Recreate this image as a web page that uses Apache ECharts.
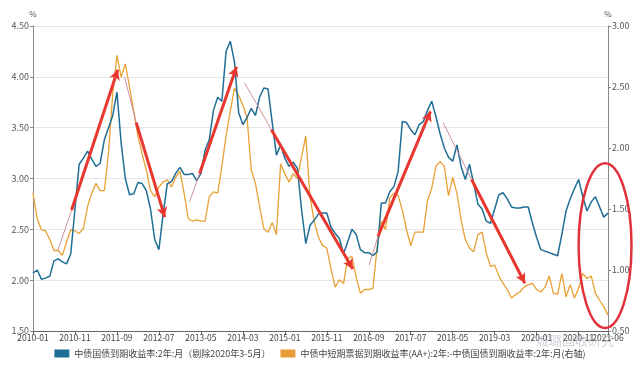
<!DOCTYPE html>
<html>
<head>
<meta charset="utf-8">
<script src="https://cdn.jsdelivr.net/npm/echarts@6/dist/echarts.min.js"></script>
<style>
html,body{margin:0;padding:0;background:#fff;}
#c{width:640px;height:369px;}
</style>
</head>
<body>
<div id="c"></div>
<script>
// ---- categories: monthly 2010-01 .. 2021-06 ----
const startYear = 2010;
const monthCount = 138;
const categories = [];
for (let k = 0; k < monthCount; k++) {
  const y = startYear + Math.floor(k / 12);
  const m = (k % 12) + 1;
  categories.push(y + '-' + (m < 10 ? '0' + m : '' + m));
}

// ---- series values ----
const seriesNames = [
  '中债国债到期收益率:2年:月（剔除2020年3-5月）',
  '中债中短期票据到期收益率(AA+):2年:-中债国债到期收益率:2年:月(右轴)'
];

// 2y CGB yield (left axis), 2020-03..05 removed
const cgb2y = [
  2.07, 2.10, 2.01, 2.02, 2.04, 2.19, 2.21, 2.18, 2.16, 2.26,
  2.70, 3.14, 3.20, 3.27, 3.19, 3.12, 3.15, 3.38, 3.50, 3.62,
  3.85, 3.35, 3.00, 2.84, 2.85, 2.96, 2.95, 2.88, 2.70, 2.40,
  2.30, 2.65, 2.95, 2.97, 3.05, 3.11, 3.04, 3.04, 3.05, 2.98,
  3.05, 3.28, 3.38, 3.67, 3.80, 3.76, 4.25, 4.35, 4.15, 3.65,
  3.53, 3.60, 3.69, 3.62, 3.80, 3.89, 3.88, 3.55, 3.23, 3.33,
  3.20, 3.12, 3.16, 3.10, 2.69, 2.36, 2.54, 2.59, 2.65, 2.66,
  2.66, 2.52, 2.46, 2.41, 2.26, 2.38, 2.50, 2.45, 2.30, 2.27,
  2.27, 2.24, 2.28, 2.76, 2.76, 2.87, 2.92, 3.07, 3.56, 3.55,
  3.48, 3.43, 3.53, 3.56, 3.67, 3.76, 3.61, 3.44, 3.30, 3.21,
  3.17, 3.33, 3.12, 2.99, 3.14, 2.95, 2.75, 2.70, 2.58, 2.56,
  2.70, 2.84, 2.86, 2.80, 2.72, 2.71, 2.71, 2.72, 2.72, 2.56,
  2.42, 2.30, null, null, null, 2.24, 2.45, 2.68, 2.80, 2.90,
  2.99, 2.82, 2.68, 2.77, 2.82, 2.72, 2.62, 2.66
];

// AA+ 2y MTN minus 2y CGB spread (right axis)
const spreadAA = [
  1.63, 1.42, 1.33, 1.32, 1.25, 1.16, 1.16, 1.12, 1.23, 1.33,
  1.32, 1.30, 1.34, 1.52, 1.63, 1.71, 1.65, 1.65, 1.96, 2.45,
  2.76, 2.58, 2.69, 2.50, 2.30, 2.10, 1.95, 1.82, 1.65, 1.60,
  1.68, 1.72, 1.74, 1.68, 1.76, 1.81, 1.63, 1.42, 1.40, 1.41,
  1.40, 1.40, 1.60, 1.64, 1.63, 1.85, 2.10, 2.30, 2.49, 2.43,
  2.35, 2.25, 1.82, 1.71, 1.52, 1.34, 1.31, 1.39, 1.29, 1.87,
  1.79, 1.72, 1.79, 1.75, 1.93, 2.10, 1.60, 1.40, 1.27, 1.20,
  1.18, 1.01, 0.86, 0.92, 0.89, 1.10, 1.11, 0.94, 0.81, 0.84,
  0.84, 0.85, 1.19, 1.40, 1.33, 1.59, 1.63, 1.61, 1.49, 1.33,
  1.20, 1.31, 1.31, 1.31, 1.57, 1.67, 1.85, 1.89, 1.85, 1.61,
  1.76, 1.63, 1.41, 1.25, 1.18, 1.15, 1.29, 1.31, 1.14, 1.03,
  1.04, 0.95, 0.89, 0.84, 0.77, 0.80, 0.82, 0.86, 0.88, 0.89,
  0.84, 0.82, 0.86, 0.95, 0.81, 0.80, 0.97, 0.78, 0.88, 0.77,
  0.85, 0.97, 0.93, 0.95, 0.81, 0.75, 0.70, 0.63
];

// ---- tick labels ----
const leftTicks = [1.5, 4.5, 0.5];   // min, max, step
const rightTicks = [0.5, 3.0, 0.5];
const unitLabel = '%';

// ---- annotations (month index, left-axis value) ----
const trendArrows = [
  [[9.2, 2.69], [20.2, 4.07]],
  [[24.6, 3.55], [31.4, 2.62]],
  [[39.7, 3.05], [48.5, 4.10]],
  [[56.8, 3.48], [76.2, 2.11]],
  [[82.2, 2.43], [94.7, 3.66]],
  [[104.5, 2.99], [117.2, 1.97]]
];
const guideLines = [
  [[5.9, 2.29], [9.2, 2.69]],
  [[21.8, 4.00], [24.6, 3.55]],
  [[37.3, 2.77], [39.7, 3.05]],
  [[50.4, 3.94], [56.8, 3.48]],
  [[80.1, 2.15], [82.2, 2.43]],
  [[97.7, 3.55], [104.5, 2.99]]
];
// ellipse bounds: [left idx, right idx, top value, bottom value]
const ellipseBox = [130.0, 142.6, 3.15, 1.53];

const watermarkText = '城璐固收研究';

const chart = echarts.init(document.getElementById('c'), null, {renderer: 'canvas'});

const lastIdx = categories.length - 1;
const labelIdx = function (i) { return i % 10 === 0; };
const lastOnly = function (i) { return i === lastIdx; };
const fmt2 = function (v) { return v.toFixed(2); };
const fontFam = '"Noto Sans CJK SC", "Noto Sans", sans-serif';

const arrowMarks = trendArrows.map(function (a) {
  return [{coord: a[0]}, {coord: a[1]}];
});
const guideMarks = guideLines.map(function (a) {
  return [{coord: a[0]}, {coord: a[1]}];
});

const option = {
  animation: false,
  textStyle: {fontFamily: fontFam},
  grid: {left: 33, right: 32, top: 26, bottom: 38, containLabel: false},
  legend: {
    data: seriesNames,
    bottom: 6,
    left: 'center',
    icon: 'rect',
    itemWidth: 15,
    itemHeight: 8,
    itemGap: 10,
    textStyle: {fontSize: 9, color: '#444', fontFamily: fontFam}
  },
  xAxis: [
    {
      type: 'category',
      data: categories,
      boundaryGap: false,
      axisLine: {lineStyle: {color: '#666', width: 1}},
      axisTick: {show: true, interval: labelIdx, length: 4, lineStyle: {color: '#666'}},
      axisLabel: {interval: labelIdx, fontSize: 8.5, color: '#444', margin: 3, hideOverlap: false},
      splitLine: {show: false}
    },
    {type: 'value', min: 0, max: lastIdx, show: false},
    {
      type: 'category',
      data: categories,
      position: 'bottom',
      boundaryGap: false,
      axisLine: {show: false},
      axisTick: {show: true, interval: lastOnly, length: 4, lineStyle: {color: '#666'}},
      axisLabel: {interval: lastOnly, fontSize: 8.5, color: '#444', margin: 3, showMaxLabel: true},
      splitLine: {show: false}
    }
  ],
  yAxis: [
    {
      type: 'value',
      min: leftTicks[0], max: leftTicks[1], interval: leftTicks[2],
      name: unitLabel,
      nameGap: 8,
      nameTextStyle: {fontSize: 8, color: '#555', align: 'center'},
      axisLine: {show: true, lineStyle: {color: '#888'}},
      axisTick: {show: true, length: 3, lineStyle: {color: '#888'}},
      axisLabel: {formatter: fmt2, fontSize: 9, color: '#555', margin: 4},
      splitLine: {show: true, lineStyle: {color: '#e6e6e6'}}
    },
    {
      type: 'value',
      position: 'right',
      min: rightTicks[0], max: rightTicks[1], interval: rightTicks[2],
      name: unitLabel,
      nameGap: 8,
      nameTextStyle: {fontSize: 8, color: '#555', align: 'center'},
      axisLine: {show: true, lineStyle: {color: '#888'}},
      axisTick: {show: true, length: 3, lineStyle: {color: '#888'}},
      axisLabel: {formatter: fmt2, fontSize: 9, color: '#555', margin: 4},
      splitLine: {show: false}
    }
  ],
  series: [
    {
      name: seriesNames[0],
      type: 'line',
      xAxisIndex: 0, yAxisIndex: 0,
      data: cgb2y,
      connectNulls: true,
      showSymbol: false,
      color: '#1f6e95',
      lineStyle: {width: 1.5, color: '#1f6e95'},
      z: 3
    },
    {
      name: seriesNames[1],
      type: 'line',
      xAxisIndex: 0, yAxisIndex: 1,
      data: spreadAA,
      showSymbol: false,
      color: '#eb9b35',
      lineStyle: {width: 1.3, color: '#e9a035'},
      z: 2
    },
    {
      name: 'guides',
      type: 'line',
      xAxisIndex: 1, yAxisIndex: 0,
      data: [],
      silent: true,
      markLine: {
        silent: true,
        symbol: ['none', 'none'],
        label: {show: false},
        lineStyle: {type: 'solid', color: '#c9849a', width: 1, opacity: 0.9},
        emphasis: {disabled: true},
        data: guideMarks
      },
      z: 4
    },
    {
      name: 'arrows',
      type: 'line',
      xAxisIndex: 1, yAxisIndex: 0,
      data: [],
      silent: true,
      markLine: {
        silent: true,
        symbol: ['none', 'arrow'],
        symbolSize: [8, 10],
        label: {show: false},
        lineStyle: {type: 'solid', color: '#e8372f', width: 3},
        emphasis: {disabled: true},
        data: arrowMarks
      },
      z: 5
    }
  ]
};
chart.setOption(option);

const pTL = chart.convertToPixel({xAxisIndex: 1, yAxisIndex: 0}, [ellipseBox[0], ellipseBox[2]]);
const pBR = chart.convertToPixel({xAxisIndex: 1, yAxisIndex: 0}, [ellipseBox[1], ellipseBox[3]]);
chart.setOption({
  graphic: [
    {
      type: 'ellipse',
      silent: true,
      shape: {
        cx: (pTL[0] + pBR[0]) / 2,
        cy: (pTL[1] + pBR[1]) / 2,
        rx: Math.abs(pBR[0] - pTL[0]) / 2,
        ry: Math.abs(pBR[1] - pTL[1]) / 2
      },
      style: {fill: 'none', stroke: '#e0323a', lineWidth: 2.5},
      z: 100
    },
    {
      type: 'text',
      silent: true,
      right: 26,
      bottom: 22,
      style: {text: watermarkText, fill: 'rgba(150,160,170,0.45)', font: '13px ' + fontFam},
      z: 100
    }
  ]
});
</script>
</body>
</html>
